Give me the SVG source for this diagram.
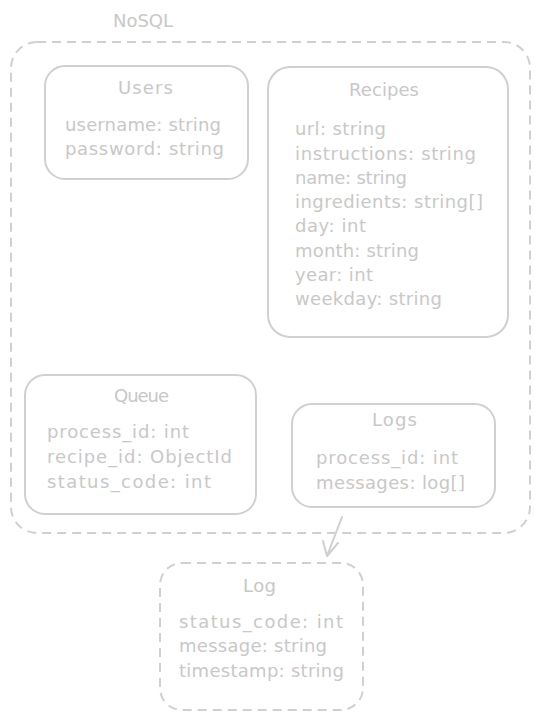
<svg xmlns="http://www.w3.org/2000/svg" width="540" height="719" viewBox="0 0 540 719">
<style>
.t{font-family:"DejaVu Sans","Liberation Sans",sans-serif;font-size:18px;fill:#c8c8c8}
.box{fill:none;stroke:#d0d0d0;stroke-width:2}
.dash{fill:none;stroke:#d0d0d0;stroke-width:2;stroke-dasharray:9 6}
</style>
<rect width="540" height="719" fill="#ffffff"/>
<g id="nosql">
<rect class="dash" x="11" y="42" width="519" height="491" rx="26"/>
<text class="t" x="113" y="27" textLength="60">NoSQL</text>
</g>
<g id="users">
<rect class="box" x="45" y="66" width="203" height="113" rx="20"/>
<text class="t" x="118" y="94" textLength="55">Users</text>
<text class="t" x="65" y="131" textLength="156">username: string</text>
<text class="t" x="65" y="155" textLength="159">password: string</text>
</g>
<g id="recipes">
<rect class="box" x="268" y="67" width="240" height="270" rx="22"/>
<text class="t" x="349" y="96" textLength="70">Recipes</text>
<text class="t" x="295" y="135" textLength="91">url: string</text>
<text class="t" x="295" y="160" textLength="181">instructions: string</text>
<text class="t" x="295" y="184" textLength="112">name: string</text>
<text class="t" x="295" y="208" textLength="188">ingredients: string[]</text>
<text class="t" x="295" y="232" textLength="71">day: int</text>
<text class="t" x="295" y="257" textLength="124">month: string</text>
<text class="t" x="295" y="281" textLength="78">year: int</text>
<text class="t" x="295" y="305" textLength="147">weekday: string</text>
</g>
<g id="queue">
<rect class="box" x="25" y="375" width="231" height="139" rx="20"/>
<text class="t" x="114" y="402" textLength="55">Queue</text>
<text class="t" x="47" y="438" textLength="142">process_id: int</text>
<text class="t" x="47" y="463" textLength="185">recipe_id: ObjectId</text>
<text class="t" x="47" y="488" textLength="164">status_code: int</text>
</g>
<g id="logs">
<rect class="box" x="292" y="404" width="203" height="103" rx="20"/>
<text class="t" x="372" y="426" textLength="45">Logs</text>
<text class="t" x="316" y="464" textLength="142">process_id: int</text>
<text class="t" x="316" y="489" textLength="149">messages: log[]</text>
</g>
<g id="log">
<rect class="dash" x="160" y="563" width="203" height="147" rx="22"/>
<text class="t" x="243" y="592" textLength="33">Log</text>
<text class="t" x="179" y="628" textLength="164">status_code: int</text>
<text class="t" x="179" y="652" textLength="148">message: string</text>
<text class="t" x="179" y="677" textLength="165">timestamp: string</text>
</g>
<g id="connectors">
<path class="box" d="M342 517 L327 556 M327 556 L323 541 M327 556 L338 543" stroke-linecap="round"/>
</g>
</svg>
